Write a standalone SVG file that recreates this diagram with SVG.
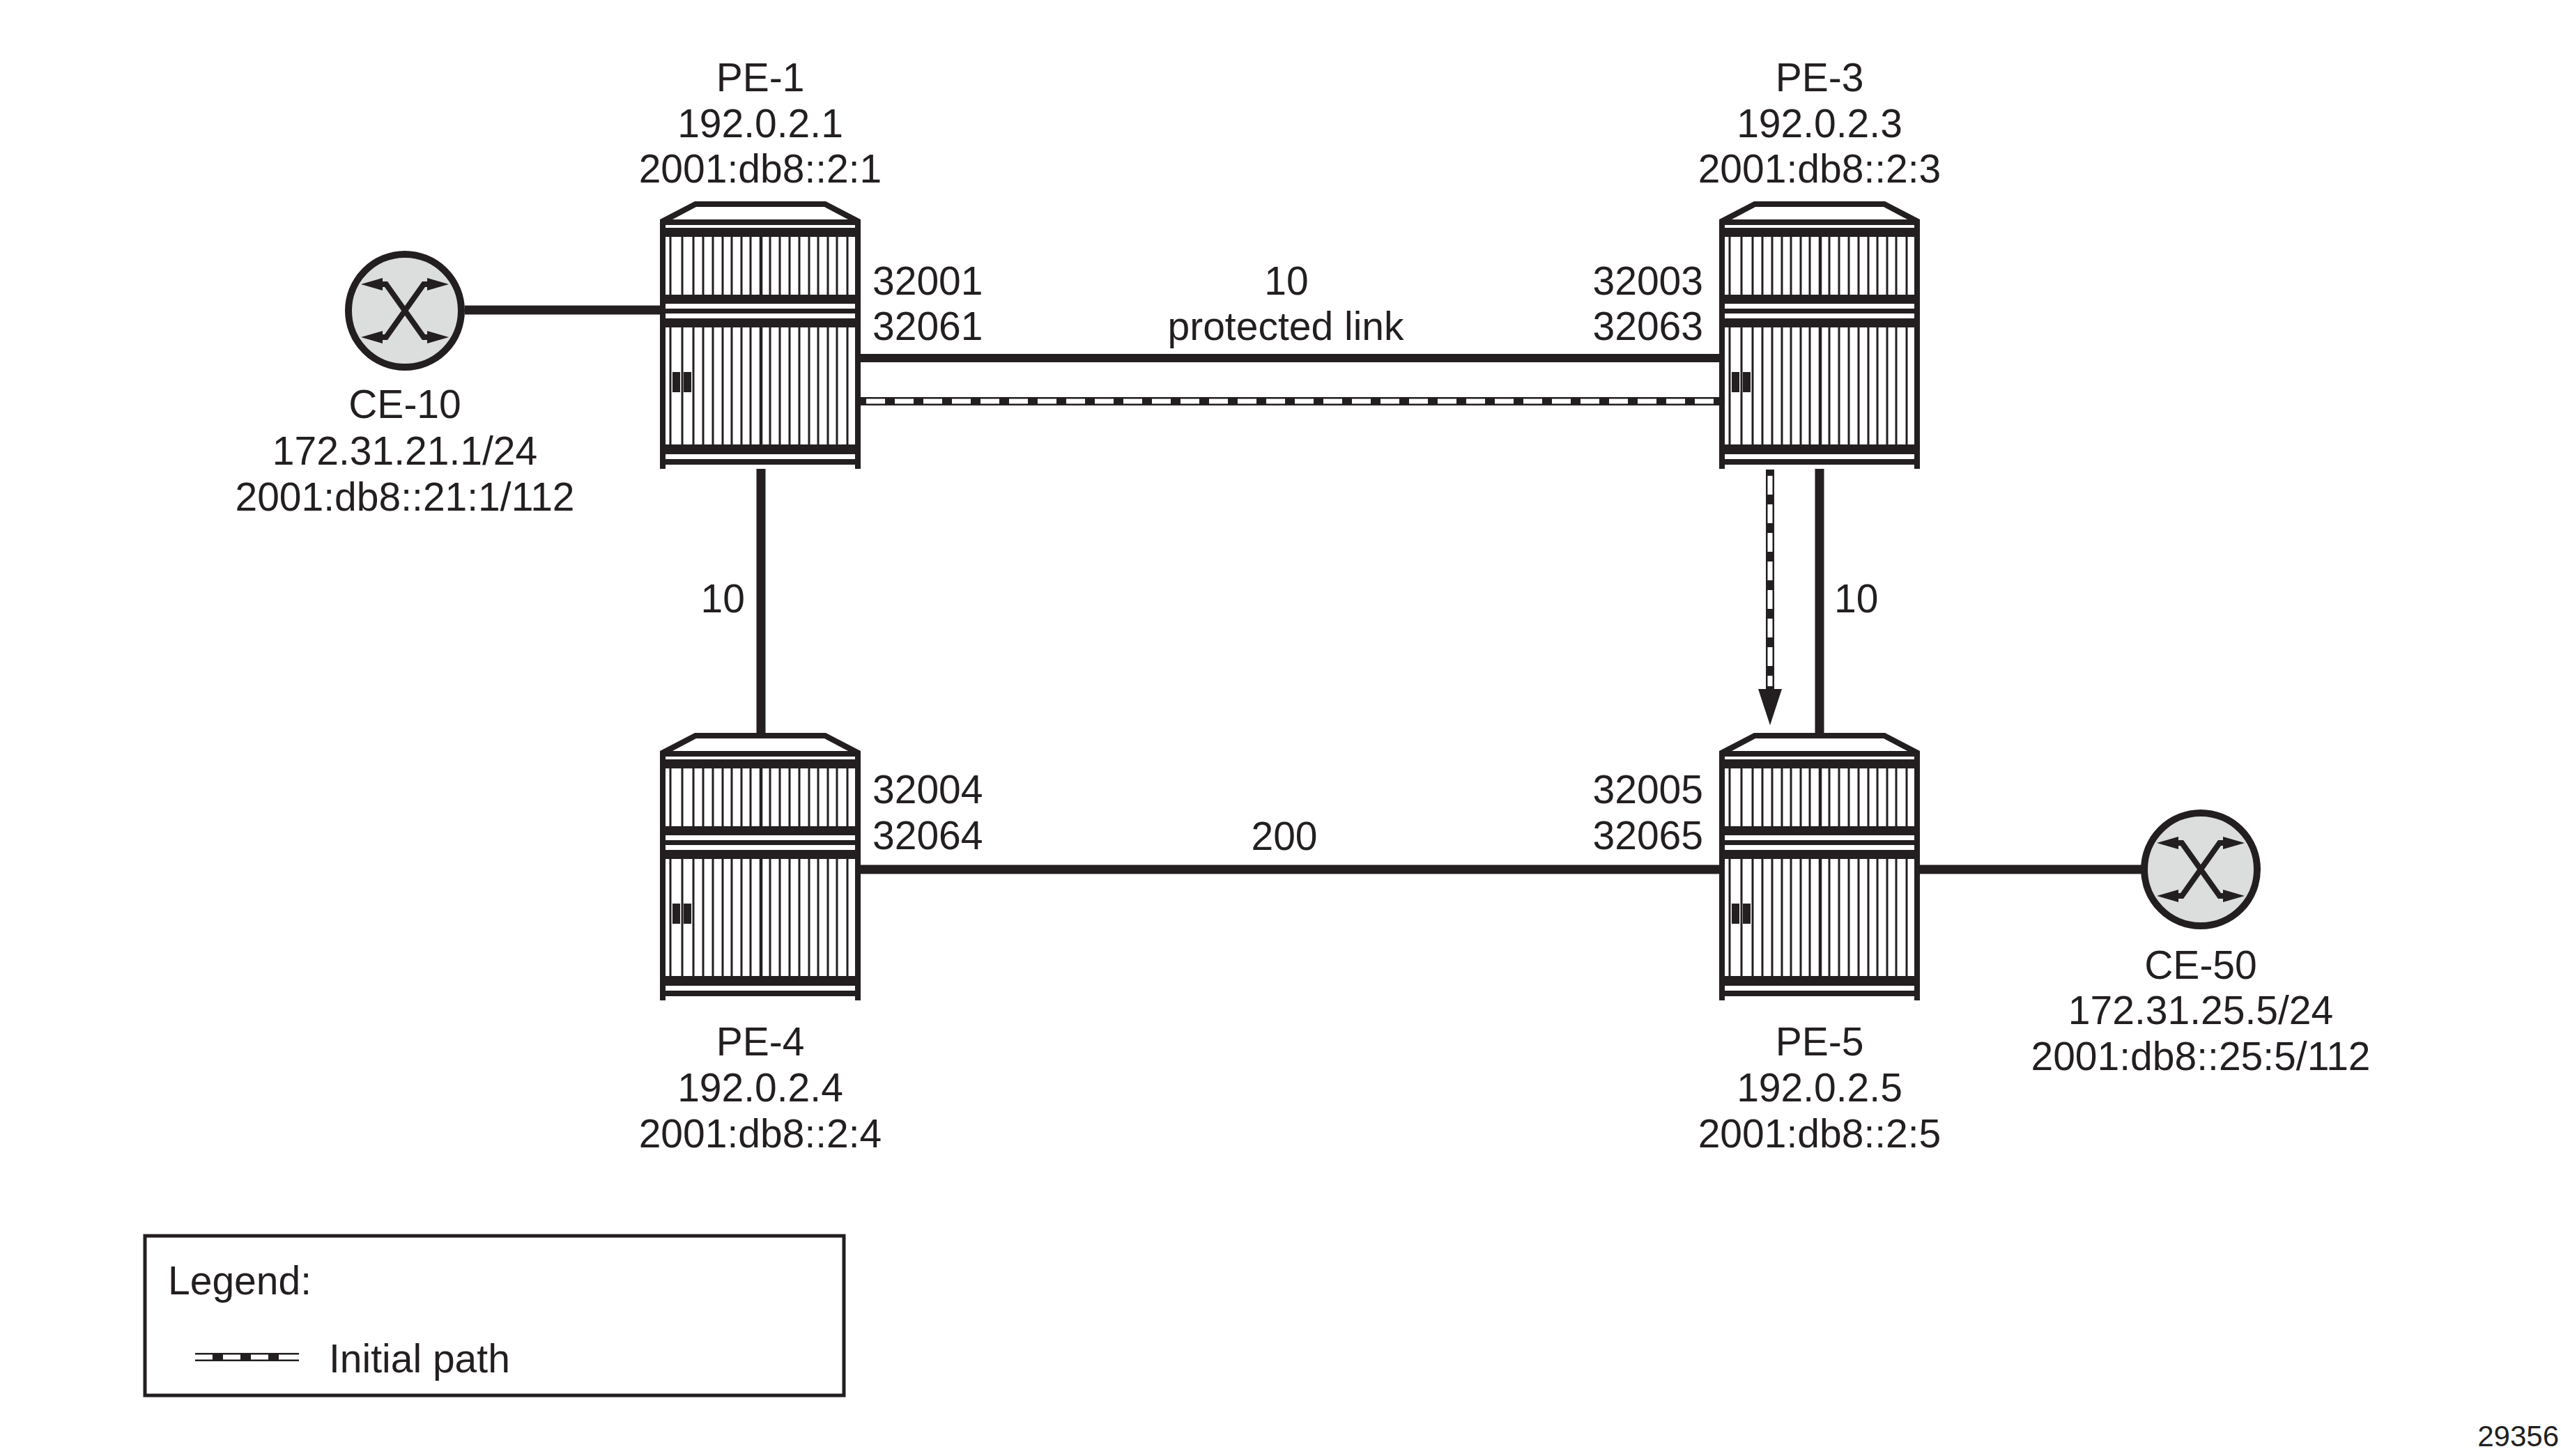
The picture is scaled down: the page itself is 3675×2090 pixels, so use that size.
<svg xmlns="http://www.w3.org/2000/svg" xmlns:xlink="http://www.w3.org/1999/xlink" width="3675" height="2090" viewBox="0 0 3675 2090">
<style>
.t{font-family:"Liberation Sans",Arial,sans-serif;font-size:57px;fill:#231f20}
.m{text-anchor:middle}
.e{text-anchor:end}
.dk{fill:#231f20}
.link{stroke:#231f20;fill:none}
.dashb{stroke:#231f20;stroke-width:12;fill:none}
.dashw{stroke:#ffffff;stroke-width:7;fill:none;stroke-dasharray:27 14}
</style>
<defs>
<g id="router">
<polygon fill="#fff" points="50,0 238,0 288,26 288,378 0,378 0,26"/>
<polygon class="dk" points="50,0 238,0 288,26 288,34 0,34 0,26"/>
<polygon fill="#fff" points="52,8 236,8 270,26 18,26"/>
<rect class="dk" x="0" y="26" width="8" height="358"/>
<rect class="dk" x="280" y="26" width="8" height="358"/>
<rect class="dk" x="0" y="38" width="288" height="13"/>
<rect class="dk" x="0" y="134" width="288" height="13"/>
<rect class="dk" x="0" y="154" width="288" height="7"/>
<rect class="dk" x="0" y="168" width="288" height="13"/>
<rect class="dk" x="0" y="349" width="288" height="14"/>
<rect class="dk" x="0" y="370" width="288" height="8"/>
<path stroke="#231f20" stroke-width="3" fill="none" d="M15,51V134M32,51V134M48,51V134M62,51V134M76,51V134M90,51V134M103,51V134M117,51V134M130,51V134M158,51V134M172,51V134M186,51V134M200,51V134M214,51V134M227,51V134M241,51V134M254,51V134M269,51V134M15,181V349M32,181V349M48,181V349M62,181V349M76,181V349M90,181V349M103,181V349M117,181V349M130,181V349M158,181V349M172,181V349M186,181V349M200,181V349M214,181V349M227,181V349M241,181V349M254,181V349M269,181V349"/>
<path stroke="#231f20" stroke-width="4.5" fill="none" d="M145,51V134M145,181V349"/>
<rect class="dk" x="18" y="245" width="11" height="29"/>
<rect class="dk" x="34" y="245" width="11" height="29"/>
</g>
<g id="ce">
<circle r="81" fill="#dcdddd" stroke="#231f20" stroke-width="10"/>
<path d="M-34,-38H-27L27,38H34M-34,38H-27L27,-38H34" stroke="#231f20" stroke-width="8" fill="none" stroke-linejoin="miter"/>
<polygon class="dk" points="-63,-38 -32,-47 -32,-29"/>
<polygon class="dk" points="-63,38 -32,29 -32,47"/>
<polygon class="dk" points="63,-38 32,-47 32,-29"/>
<polygon class="dk" points="63,38 32,29 32,47"/>
</g>
</defs>

<g id="connectors">
<line class="link" stroke-width="13" x1="667" y1="445" x2="947" y2="445"/>
<line class="link" stroke-width="12" x1="1235" y1="514" x2="2467" y2="514"/>
<line class="dashb" x1="1235" y1="576" x2="2467" y2="576"/>
<line class="dashw" x1="1243" y1="576" x2="2460" y2="576"/>
<line class="link" stroke-width="13" x1="1092" y1="673" x2="1092" y2="1053"/>
<line class="link" stroke-width="13" x1="2611" y1="673" x2="2611" y2="1053"/>
<line class="dashb" x1="2540" y1="674" x2="2540" y2="995"/>
<line class="dashw" x1="2540" y1="683" x2="2540" y2="985"/>
<polygon class="dk" points="2523,989 2557,989 2540,1041"/>
<line class="link" stroke-width="13" x1="1235" y1="1248" x2="2467" y2="1248"/>
<line class="link" stroke-width="13" x1="2755" y1="1248" x2="3073" y2="1248"/>
</g>

<g id="link-labels">
<text class="t m" x="1846" y="423">10</text>
<text class="t m" x="1845" y="488">protected link</text>
<text class="t e" x="1069" y="879">10</text>
<text class="t" x="2632" y="879">10</text>
<text class="t m" x="1843" y="1220">200</text>
</g>

<g id="PE-1">
<use xlink:href="#router" x="947" y="289"/>
<text class="t m" x="1091" y="131">PE-1</text>
<text class="t m" x="1091" y="197">192.0.2.1</text>
<text class="t m" x="1091" y="262">2001:db8::2:1</text>
<text class="t" x="1252" y="423">32001</text>
<text class="t" x="1252" y="488">32061</text>
</g>

<g id="PE-3">
<use xlink:href="#router" x="2467" y="289"/>
<text class="t m" x="2611" y="131">PE-3</text>
<text class="t m" x="2611" y="197">192.0.2.3</text>
<text class="t m" x="2611" y="262">2001:db8::2:3</text>
<text class="t e" x="2444" y="423">32003</text>
<text class="t e" x="2444" y="488">32063</text>
</g>

<g id="PE-4">
<use xlink:href="#router" x="947" y="1052"/>
<text class="t m" x="1091" y="1515">PE-4</text>
<text class="t m" x="1091" y="1581">192.0.2.4</text>
<text class="t m" x="1091" y="1647">2001:db8::2:4</text>
<text class="t" x="1252" y="1153">32004</text>
<text class="t" x="1252" y="1219">32064</text>
</g>

<g id="PE-5">
<use xlink:href="#router" x="2467" y="1052"/>
<text class="t m" x="2611" y="1515">PE-5</text>
<text class="t m" x="2611" y="1581">192.0.2.5</text>
<text class="t m" x="2611" y="1647">2001:db8::2:5</text>
<text class="t e" x="2444" y="1153">32005</text>
<text class="t e" x="2444" y="1219">32065</text>
</g>

<g id="CE-10">
<use xlink:href="#ce" x="581" y="446"/>
<text class="t m" x="581" y="600">CE-10</text>
<text class="t m" x="581" y="667">172.31.21.1/24</text>
<text class="t m" x="581" y="733">2001:db8::21:1/112</text>
</g>

<g id="CE-50">
<use xlink:href="#ce" x="3158" y="1248"/>
<text class="t m" x="3158" y="1405">CE-50</text>
<text class="t m" x="3158" y="1470">172.31.25.5/24</text>
<text class="t m" x="3158" y="1536">2001:db8::25:5/112</text>
</g>

<g id="legend">
<rect x="208" y="1774" width="1003" height="229" fill="none" stroke="#231f20" stroke-width="5"/>
<text class="t" x="241" y="1858">Legend:</text>
<line class="dashb" x1="280" y1="1948" x2="429" y2="1948"/>
<line x1="280" y1="1948" x2="429" y2="1948" stroke="#fff" stroke-width="7" stroke-dasharray="25 15 25 15 25 15 29"/>
<text class="t" x="472" y="1970">Initial path</text>
</g>

<text id="fig-number" class="t e" style="font-size:42px" x="3672" y="2076">29356</text>
</svg>
